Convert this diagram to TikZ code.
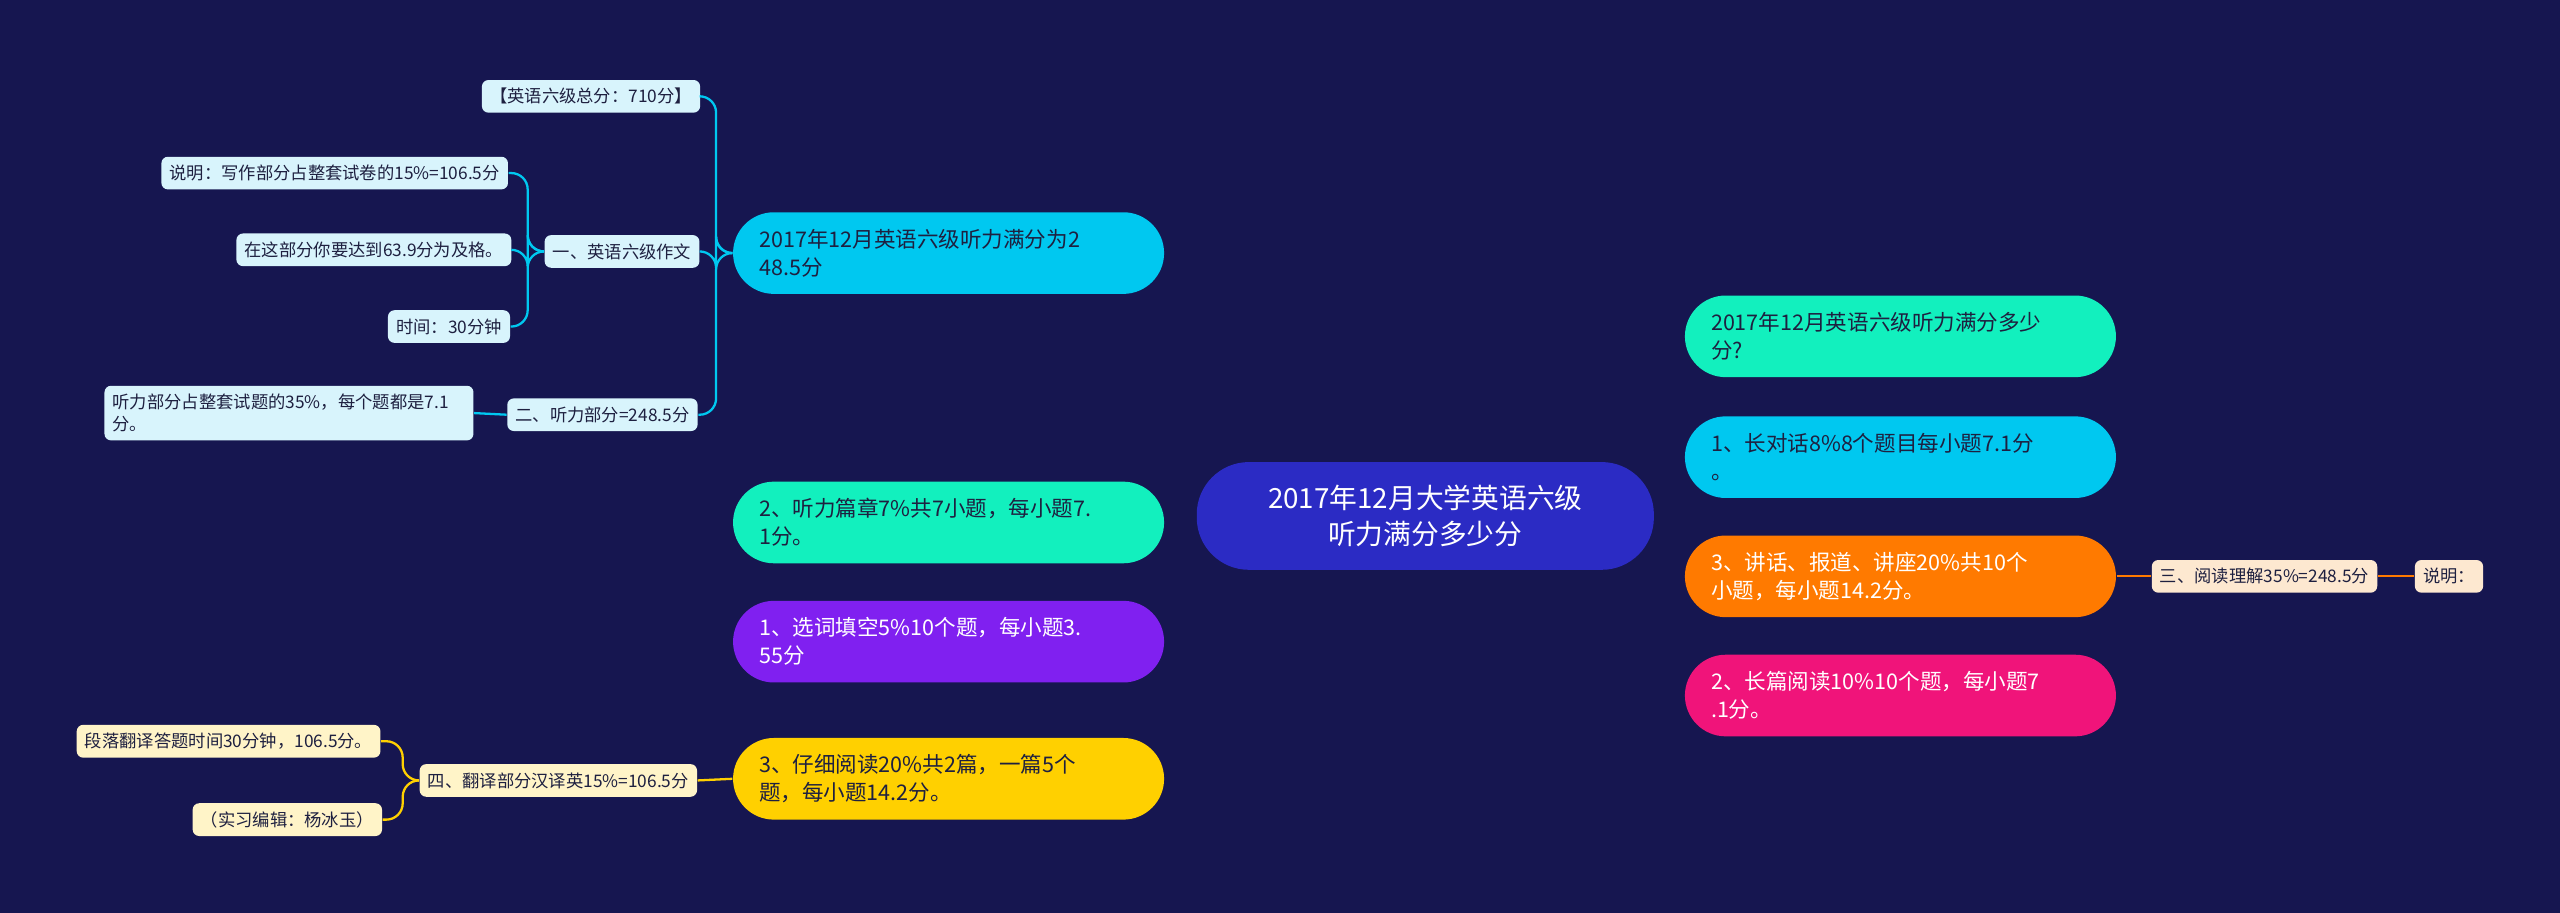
\documentclass[tikz,border=0pt]{standalone}
\usepackage{fontspec}
\setmainfont{Noto Sans CJK SC}
\usetikzlibrary{backgrounds}
\definecolor{bgblue}{HTML}{161650}
\definecolor{rootblue}{HTML}{2B2BC4}
\definecolor{mteal}{HTML}{12F0BE}
\definecolor{mcyan}{HTML}{00C8F0}
\definecolor{morange}{HTML}{FF7A00}
\definecolor{mpink}{HTML}{F0147A}
\definecolor{mpurple}{HTML}{8020F0}
\definecolor{myellow}{HTML}{FFD000}
\definecolor{lcyan}{HTML}{D8F4FC}
\definecolor{lpeach}{HTML}{FDE8D0}
\definecolor{lyellow}{HTML}{FFF4C8}
\definecolor{darktext}{HTML}{1E2040}
\tikzset{
  rootbox/.style={fill=rootblue, text=white, rounded corners=16pt, minimum width=140pt,
    minimum height=33pt, align=center, font=\fontsize{8.5}{11}\selectfont},
  mainbox/.style={fill=#1, rounded corners=12.5pt, minimum width=132pt, minimum height=25pt,
    text width=116pt, align=left, font=\fontsize{6.6}{8.6}\selectfont},
  leafbox/.style={fill=#1, text=darktext, rounded corners=2pt, minimum height=10pt,
    inner sep=2.5pt, align=left, font=\fontsize{5.3}{6.8}\selectfont},
  link/.style={draw=#1, line width=0.7pt},
}
\begin{document}
\begin{tikzpicture}[x=0.5pt,y=-0.5pt]
  \useasboundingbox[fill=bgblue] (0,0) rectangle (1568,559);
  % centre
  \node[rootbox] (root) at (873,316) {2017年12月大学英语六级\\听力满分多少分};
  % right branches
  \node[mainbox=mteal, text=darktext] (r1) at (1164,206) {2017年12月英语六级听力满分多少\\分?};
  \node[mainbox=mcyan, text=darktext] (r2) at (1164,280) {1、长对话8\%8个题目每小题7.1分\\。};
  \node[mainbox=morange, text=white] (r3) at (1164,353) {3、讲话、报道、讲座20\%共10个\\小题，每小题14.2分。};
  \node[mainbox=mpink, text=white] (r4) at (1164,426) {2、长篇阅读10\%10个题，每小题7\\.1分。};
  % left branches
  \node[mainbox=mcyan, text=darktext] (l1) at (581,155) {2017年12月英语六级听力满分为2\\48.5分};
  \node[mainbox=mteal, text=darktext] (l2) at (581,320) {2、听力篇章7\%共7小题，每小题7.\\1分。};
  \node[mainbox=mpurple, text=white] (l3) at (581,393) {1、选词填空5\%10个题，每小题3.\\55分};
  \node[mainbox=myellow, text=darktext] (l4) at (581,477) {3、仔细阅读20\%共2篇，一篇5个\\题，每小题14.2分。};
  % small nodes
  \node[leafbox=lcyan] (total) at (362,59) {【英语六级总分：710分】};
  \node[leafbox=lcyan] (essay) at (381,154) {一、英语六级作文};
  \node[leafbox=lcyan] (listen) at (369,254) {二、听力部分=248.5分};
  \node[leafbox=lcyan] (note) at (205,106) {说明：写作部分占整套试卷的15\%=106.5分};
  \node[leafbox=lcyan] (pass) at (229,153) {在这部分你要达到63.9分为及格。};
  \node[leafbox=lcyan] (time) at (275,200) {时间：30分钟};
  \node[leafbox=lcyan, text width=108pt] (share) at (177,253) {听力部分占整套试题的35\%，每个题都是7.1\\分。};
  \node[leafbox=lpeach] (read) at (1387,353) {三、阅读理解35\%=248.5分};
  \node[leafbox=lpeach] (readnote) at (1500,353) {说明：};
  \node[leafbox=lyellow] (trans) at (342,478) {四、翻译部分汉译英15\%=106.5分};
  \node[leafbox=lyellow] (transtime) at (140,454) {段落翻译答题时间30分钟，106.5分。};
  \node[leafbox=lyellow] (editor) at (176,502) {（实习编辑：杨冰玉）};
  % connectors
  \begin{scope}[on background layer]
    \draw[link=mteal] (root.center) to[out=80,in=180] (r1.west);
    \draw[link=mcyan] (root.center) to[out=70,in=180] (r2.west);
    \draw[link=morange] (root.center) to[out=-60,in=180] (r3.west);
    \draw[link=mpink] (root.center) to[out=-80,in=180] (r4.west);
    \draw[link=mcyan] (root.center) to[out=100,in=0] (l1.east);
    \draw[link=mteal] (root.center) to[out=170,in=0] (l2.east);
    \draw[link=mpurple] (root.center) to[out=-110,in=0] (l3.east);
    \draw[link=myellow] (root.center) to[out=-95,in=0] (l4.east);
  \end{scope}
  \begin{scope}[rounded corners=5pt]
    \draw[link=mcyan] (l1.west) -- ++(-10,0) |- (total.east);
    \draw[link=mcyan] (l1.west) -- ++(-10,0) |- (essay.east);
    \draw[link=mcyan] (l1.west) -- ++(-10,0) |- (listen.east);
    \draw[link=mcyan] (essay.west) -- ++(-10,0) |- (note.east);
    \draw[link=mcyan] (essay.west) -- ++(-10,0) |- (pass.east);
    \draw[link=mcyan] (essay.west) -- ++(-10,0) |- (time.east);
    \draw[link=mcyan] (listen.west) -- (share.east);
    \draw[link=morange] (r3.east) -- (read.west);
    \draw[link=morange] (read.east) -- (readnote.west);
    \draw[link=myellow] (l4.west) -- (trans.east);
    \draw[link=myellow] (trans.west) -- ++(-10,0) |- (transtime.east);
    \draw[link=myellow] (trans.west) -- ++(-10,0) |- (editor.east);
  \end{scope}
\end{tikzpicture}
\end{document}
